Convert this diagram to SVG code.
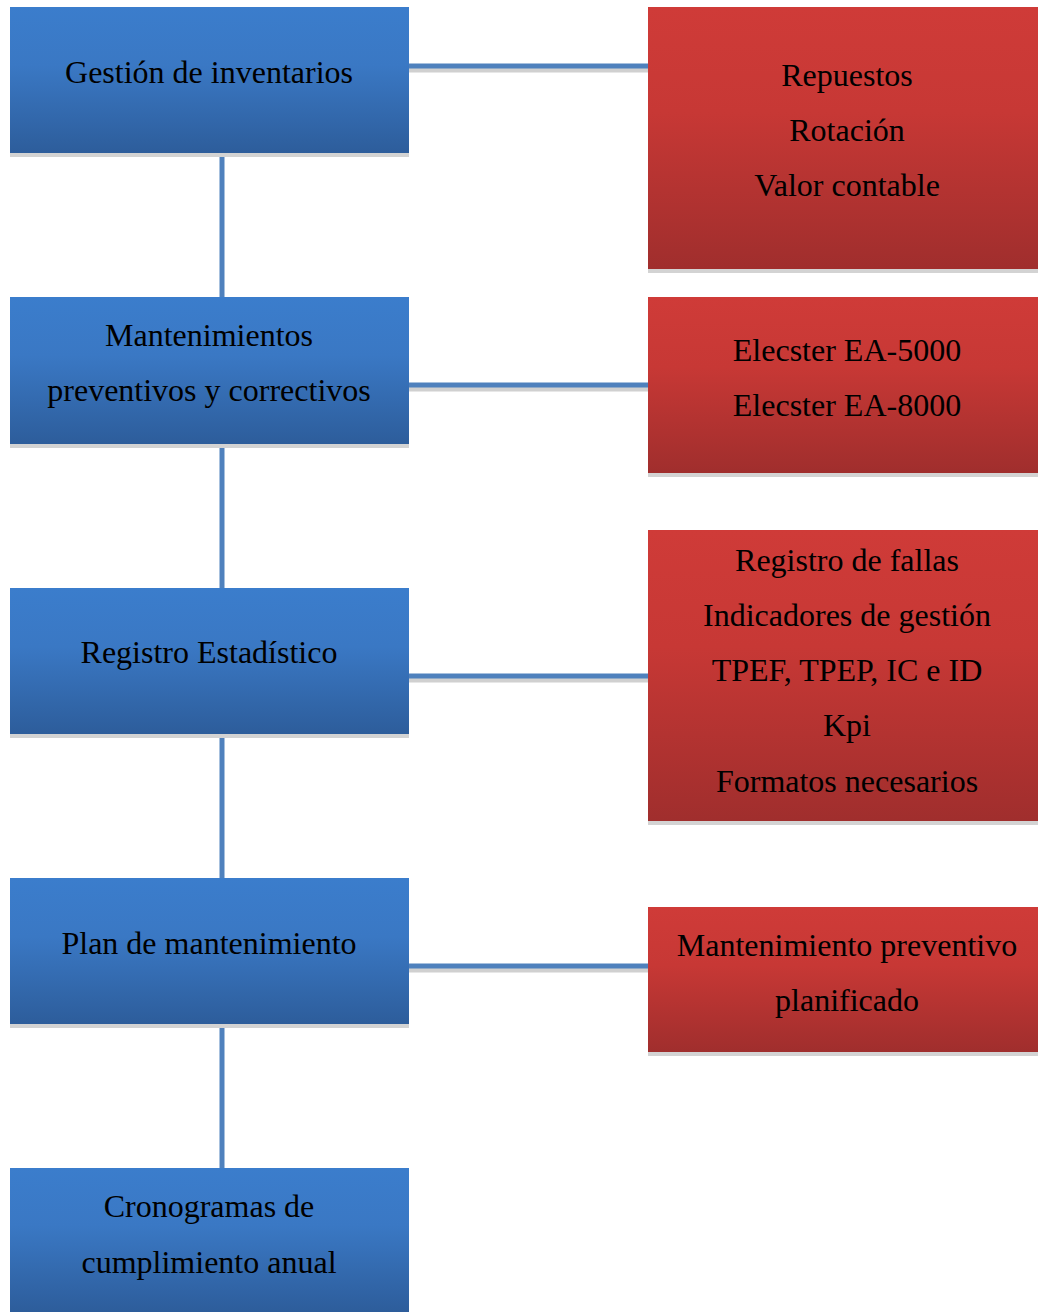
<svg xmlns="http://www.w3.org/2000/svg" width="1038" height="1312" viewBox="0 0 1038 1312">
<defs>
<linearGradient id="gb" x1="0" y1="0" x2="0" y2="1">
<stop offset="0" stop-color="#3b7dcc"/><stop offset="0.4" stop-color="#3a78c4"/><stop offset="1" stop-color="#2d5d9b"/>
</linearGradient>
<linearGradient id="gr" x1="0" y1="0" x2="0" y2="1">
<stop offset="0" stop-color="#cf3b38"/><stop offset="0.4" stop-color="#c73835"/><stop offset="1" stop-color="#a02e2d"/>
</linearGradient>
</defs>
<style>
.b{fill:url(#gb)}
.r{fill:url(#gr)}
.sh{fill:#d3d3d3}
.t{font-family:"Liberation Serif","Times New Roman",serif;font-size:32px;fill:#000;text-anchor:middle}
.c{stroke:#4f81bd;stroke-width:5;fill:none}
.cs{stroke:#d0d0d0;stroke-width:5;fill:none}
</style>
<g id="connectors">
<path class="cs" d="M409 70H648M409 389H648M409 680H648M409 970H648"/>
<path class="c" d="M409 66H648M409 385H648M409 676H648M409 966H648"/>
<path class="c" d="M222 153V297M222 444V588M222 734V878M222 1024V1168"/>
</g>
<g id="n1"><rect class="sh" x="10" y="10" width="399" height="147"/><rect class="b" x="10" y="7" width="399" height="146"/><text class="t" x="209" y="83">Gestión de inventarios</text></g>
<g id="n2"><rect class="sh" x="10" y="300" width="399" height="148"/><rect class="b" x="10" y="297" width="399" height="147"/><text class="t" x="209" y="346">Mantenimientos</text><text class="t" x="209" y="401">preventivos y correctivos</text></g>
<g id="n3"><rect class="sh" x="10" y="591" width="399" height="147"/><rect class="b" x="10" y="588" width="399" height="146"/><text class="t" x="209" y="663">Registro Estadístico</text></g>
<g id="n4"><rect class="sh" x="10" y="881" width="399" height="147"/><rect class="b" x="10" y="878" width="399" height="146"/><text class="t" x="209" y="954">Plan de mantenimiento</text></g>
<g id="n5"><rect class="b" x="10" y="1168" width="399" height="144"/><text class="t" x="209" y="1217">Cronogramas de</text><text class="t" x="209" y="1273">cumplimiento anual</text></g>
<g id="r1"><rect class="sh" x="648" y="10" width="390" height="263"/><rect class="r" x="648" y="7" width="390" height="262"/><text class="t" x="847" y="86">Repuestos</text><text class="t" x="847" y="141">Rotación</text><text class="t" x="847" y="196">Valor contable</text></g>
<g id="r2"><rect class="sh" x="648" y="300" width="390" height="177"/><rect class="r" x="648" y="297" width="390" height="176"/><text class="t" x="847" y="361">Elecster EA-5000</text><text class="t" x="847" y="416">Elecster EA-8000</text></g>
<g id="r3"><rect class="sh" x="648" y="533" width="390" height="292"/><rect class="r" x="648" y="530" width="390" height="291"/><text class="t" x="847" y="571">Registro de fallas</text><text class="t" x="847" y="626">Indicadores de gestión</text><text class="t" x="847" y="681">TPEF, TPEP, IC e ID</text><text class="t" x="847" y="736">Kpi</text><text class="t" x="847" y="792">Formatos necesarios</text></g>
<g id="r4"><rect class="sh" x="648" y="910" width="390" height="146"/><rect class="r" x="648" y="907" width="390" height="145"/><text class="t" x="847" y="956">Mantenimiento preventivo</text><text class="t" x="847" y="1011">planificado</text></g>
</svg>
